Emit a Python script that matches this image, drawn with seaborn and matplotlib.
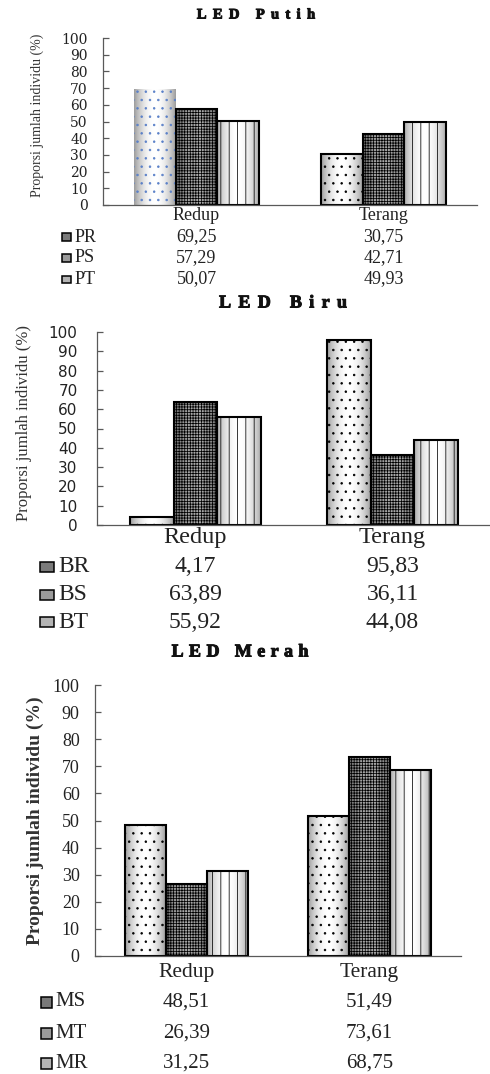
import numpy as np
import pandas as pd
import matplotlib
matplotlib.use("Agg")
import matplotlib.pyplot as plt
import matplotlib.transforms as mtransforms
import matplotlib.patheffects as pe
from matplotlib.patches import Rectangle
import seaborn as sns

# ---- data -------------------------------------------------------------
kondisi = ["Redup", "Terang"]

putih_seri = ["PR", "PS", "PT"]
putih_redup = [69.25, 57.29, 50.07]
putih_terang = [30.75, 42.71, 49.93]

biru_seri = ["BR", "BS", "BT"]
biru_redup = [4.17, 63.89, 55.92]
biru_terang = [95.83, 36.11, 44.08]

merah_seri = ["MS", "MT", "MR"]
merah_redup = [48.51, 26.39, 31.25]
merah_terang = [51.49, 73.61, 68.75]

sumbu_y = list(range(0, 101, 10))
label_y = "Proporsi jumlah individu (%)"

# ---- style ------------------------------------------------------------
sns.set_style("white")
plt.rcParams["hatch.linewidth"] = 0.55
SERIF = ["Liberation Serif", "DejaVu Serif"]
GARIS = "#595959"

W, H = 490, 1074
fig = plt.figure(figsize=(W / 100, H / 100), dpi=100)
fig.patch.set_facecolor("white")


def kotak(l, t, r, b):
    return [l / W, 1 - b / H, (r - l) / W, (b - t) / H]


def fy(px):
    return 1 - px / H


# bar fills: dotted, checkered, vertical stripes (with a soft side shading)
POLA = [
    dict(hatch="..", lo=0.62, hi=1.0),
    dict(hatch="++++++", lo=0.42, hi=0.66),
    dict(hatch="||", lo=0.68, hi=1.0),
]
WARNA_PENANDA = ["#7a7a7a", "#9a9a9a", "#b4b4b4"]


def gradien(lo, hi, n=64):
    t = np.linspace(-1, 1, n)
    return (hi - (hi - lo) * np.abs(t) ** 2)[None, :]


def judul_renggang(xc, y, teks, size, track):
    """Bold title with wide letter spacing, centred at (xc, y) in pixels."""
    r = fig.canvas.get_renderer()
    lebar = []
    for ch in teks:
        if ch == " ":
            lebar.append(0.25 * size * 100 / 72)
        else:
            t = fig.text(0, 0, ch, family=SERIF, weight="bold", size=size)
            lebar.append(t.get_window_extent(r).width)
            t.remove()
    total = sum(lebar) + track * (len(teks) - 1)
    x = xc - total / 2
    tebal = [pe.withStroke(linewidth=0.7, foreground="#111111")]
    for ch, w in zip(teks, lebar):
        if ch != " ":
            fig.text(x / W, fy(y), ch, family=SERIF, weight="bold", size=size,
                     ha="left", va="center", color="#111111",
                     path_effects=tebal)
        x += w + track


def panel(cfg, seri, redup, terang, judul):
    l, t, r, b = cfg["box"]
    ax = fig.add_axes(kotak(l, t, r, b))
    df = pd.DataFrame({
        "kondisi": [kondisi[0]] * len(seri) + [kondisi[1]] * len(seri),
        "seri": list(seri) * 2,
        "nilai": list(redup) + list(terang),
    })
    sns.barplot(data=df, x="kondisi", y="nilai", hue="seri", order=kondisi,
                hue_order=seri, palette={s: "white" for s in seri},
                width=0.67, gap=0, saturation=1, errorbar=None, legend=False,
                ax=ax)

    for k, cont in enumerate(ax.containers):
        pola = POLA[k]
        for i, bar in enumerate(cont):
            x0, w, h = bar.get_x(), bar.get_width(), bar.get_height()
            bar.set_facecolor("none")
            bar.set_edgecolor("black")
            bar.set_linewidth(1.5)
            bar.set_hatch(pola["hatch"])
            bar.set_zorder(1)
            if cfg.get("biru_pertama") and k == 0 and i == 0:
                bar.set_edgecolor("#5a80c8")
                bar.set_linewidth(0)
            ax.imshow(gradien(pola["lo"], pola["hi"]), extent=[x0, x0 + w, 0, h],
                      cmap="gray", vmin=0, vmax=1, aspect="auto",
                      interpolation="bilinear", zorder=0.5)

    ax.set_xlim(-0.5, 1.5)
    ax.set_ylim(0, 100)
    ax.set_yticks(sumbu_y)
    ax.set_xticks([])
    ax.set_xlabel("")
    for s in ["top", "right"]:
        ax.spines[s].set_visible(False)
    for s in ["left", "bottom"]:
        ax.spines[s].set_color(GARIS)
        ax.spines[s].set_linewidth(0.9)
        ax.spines[s].set_zorder(3)
    ax.tick_params(axis="y", direction="in", length=4, width=0.9, color=GARIS,
                   pad=cfg["ypad"], labelsize=cfg["ytick_size"], left=True)
    for lbl in ax.get_yticklabels():
        lbl.set_family(cfg["ytick_font"])
        lbl.set_color("#222222")

    ax.set_ylabel(label_y, family=SERIF, size=cfg["ylab_size"],
                  weight=cfg["ylab_weight"], color="#333333")
    ax.yaxis.set_label_coords((cfg["ylab_x"] - l) / (r - l), cfg["ylab_y"])
    ax.yaxis.label.set_va("center")

    campur = mtransforms.blended_transform_factory(ax.transData, fig.transFigure)
    for i, nama in enumerate(kondisi):
        ax.text(i, fy(cfg["cat_y"]), nama, transform=campur, ha="center",
                va="center", family=SERIF, size=cfg["cat_size"], color="#222222")

    mx, mw, mh = cfg["penanda"]
    for j, s in enumerate(seri):
        yp = cfg["baris"][j]
        fig.add_artist(Rectangle((mx / W, fy(yp + mh / 2)), mw / W, mh / H,
                                 transform=fig.transFigure,
                                 facecolor=WARNA_PENANDA[j], edgecolor="black",
                                 linewidth=1.1))
        fig.text(cfg["leg_x"] / W, fy(yp), s, ha="left", va="center",
                 family=SERIF, size=cfg["tab_size"], color="#222222")
        for i, v in enumerate([redup[j], terang[j]]):
            ax.text(i, fy(yp), f"{v:.2f}".replace(".", ","), transform=campur,
                    ha="center", va="center", family=SERIF,
                    size=cfg["tab_size"], color="#222222")

    judul_renggang(cfg["judul_x"], cfg["judul_y"], judul, cfg["judul_size"],
                   cfg["judul_track"])
    return ax


cfg_putih = dict(box=(103, 38, 477, 205), ypad=11, ytick_size=10,
                 ytick_font=["DejaVu Serif"], ylab_size=10, ylab_weight="normal",
                 ylab_x=37, ylab_y=0.54, cat_y=216, cat_size=13,
                 baris=[237, 258, 279], penanda=(62, 9, 7), leg_x=75,
                 tab_size=13, judul_x=256, judul_y=15, judul_size=10.5,
                 judul_track=6.3, biru_pertama=True)
cfg_biru = dict(box=(97, 332, 491, 525), ypad=14, ytick_size=11,
                ytick_font=["DejaVu Sans"], ylab_size=12, ylab_weight="normal",
                ylab_x=24, ylab_y=0.53, cat_y=538, cat_size=17.5,
                baris=[567, 595, 622], penanda=(40, 14, 10), leg_x=58,
                tab_size=17, judul_x=283, judul_y=303, judul_size=13,
                judul_track=7.3)
cfg_merah = dict(box=(95, 685, 461, 956), ypad=11, ytick_size=13,
                 ytick_font=SERIF, ylab_size=14, ylab_weight="bold",
                 ylab_x=35, ylab_y=0.5, cat_y=972, cat_size=15.5,
                 baris=[1002, 1033, 1063], penanda=(41, 11, 11), leg_x=55,
                 tab_size=15, judul_x=240, judul_y=652, judul_size=13,
                 judul_track=5.4)

panel(cfg_putih, putih_seri, putih_redup, putih_terang, "LED Putih")
panel(cfg_biru, biru_seri, biru_redup, biru_terang, "LED Biru")
panel(cfg_merah, merah_seri, merah_redup, merah_terang, "LED Merah")

fig.savefig("out.png", dpi=100, facecolor="white")
